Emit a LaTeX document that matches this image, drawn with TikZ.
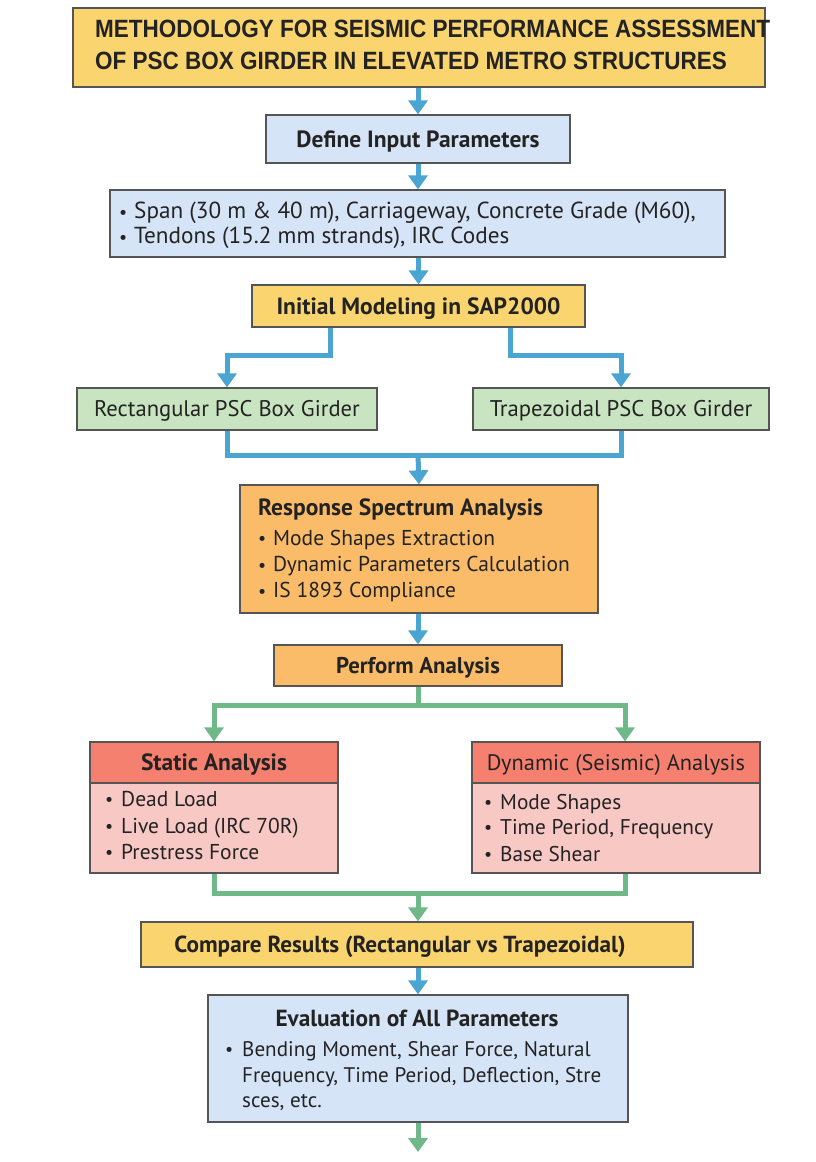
\documentclass[tikz,border=0pt]{standalone}
\usepackage{fontspec}
\setmainfont{PT Sans}
\newfontfamily\titlefont[FakeStretch=0.9]{Liberation Sans}
\usetikzlibrary{arrows.meta}
\definecolor{bordergray}{RGB}{85,85,85}
\definecolor{txt}{RGB}{35,35,35}
\definecolor{ablue}{RGB}{75,165,210}
\definecolor{agreen}{RGB}{110,185,135}
\definecolor{fyellow}{RGB}{250,212,110}
\definecolor{fblue}{RGB}{214,228,247}
\definecolor{fgreen}{RGB}{200,228,192}
\definecolor{forange}{RGB}{250,188,105}
\definecolor{fsalmon}{RGB}{246,128,112}
\definecolor{fpink}{RGB}{248,200,196}
\newcommand{\fsz}[1]{\fontsize{#1}{#1}\selectfont}
\newcommand{\bul}[1]{\makebox[#1][l]{\raisebox{0.5pt}{\fsz{18}•}}}
\begin{document}
\begin{tikzpicture}[x=1pt,y=-1pt,
  box/.style={draw=bordergray, line width=1.3pt, inner sep=0pt, text=txt},
  ctr/.style={text height=#1, text depth=0pt},
  lbl/.style={inner sep=0pt, text=txt, anchor=base west},
  hd/.style={inner sep=0pt, text=txt},
  bline/.style={draw=ablue, line width=5pt},
  barrow/.style={draw=ablue, line width=5pt, -{Triangle[width=19pt,length=14pt]}},
  gline/.style={draw=agreen, line width=5pt},
  garrow/.style={draw=agreen, line width=5pt, -{Triangle[width=19pt,length=14pt]}}]
\path[use as bounding box, fill=white] (0,0) rectangle (816,1162);

% title
\node[box, fill=fyellow, minimum width=692pt, minimum height=79pt] (title) at (419,47.5) {};
\node[inner sep=0pt, text=txt, anchor=west, font=\titlefont\fsz{25}\bfseries] (t1) at (95,29) {METHODOLOGY FOR SEISMIC PERFORMANCE ASSESSMENT};
\node[inner sep=0pt, text=txt, anchor=west, font=\titlefont\fsz{25}\bfseries] (t2) at (95,61) {OF PSC BOX GIRDER IN ELEVATED METRO STRUCTURES};

% define
\node[box, ctr=16.4pt, fill=fblue, minimum width=304pt, minimum height=48pt, font=\fsz{23.5}\bfseries] (define) at (418,139) {Define Input Parameters};

% span
\node[box, fill=fblue, minimum width=615pt, minimum height=67pt] (span) at (417.5,223.5) {};
\node[lbl, font=\fsz{23.2}] (sp1) at (119,218.5) {\bul{15pt}Span (30 m \& 40 m), Carriageway, Concrete Grade (M60),};
\node[lbl, font=\fsz{23.2}] (sp2) at (119,243.5) {\bul{15pt}Tendons (15.2 mm strands), IRC Codes};

% initial
\node[box, ctr=16.4pt, fill=fyellow, minimum width=333pt, minimum height=42pt, font=\fsz{23.5}\bfseries] (init) at (418.5,306) {Initial Modeling in SAP2000};

% girders
\node[box, ctr=15.8pt, fill=fgreen, minimum width=300pt, minimum height=42pt, font=\fsz{22.6}] (rect) at (227,409) {Rectangular PSC Box Girder};
\node[box, ctr=15.8pt, fill=fgreen, minimum width=296pt, minimum height=42pt, font=\fsz{22.7}] (trap) at (621,409) {Trapezoidal PSC Box Girder};

% response
\node[box, fill=forange, minimum width=358pt, minimum height=128pt] (resp) at (419,549) {};
\node[hd, anchor=base west, font=\fsz{23.5}\bfseries] (r0) at (258,515) {Response Spectrum Analysis};
\node[lbl, font=\fsz{21.5}] (r1) at (258,545) {\bul{15pt}Mode Shapes Extraction};
\node[lbl, font=\fsz{21.5}] (r2) at (258,571.5) {\bul{15pt}Dynamic Parameters Calculation};
\node[lbl, font=\fsz{21.5}] (r3) at (258,597.5) {\bul{15pt}IS 1893 Compliance};

% perform
\node[box, ctr=16pt, fill=forange, minimum width=288pt, minimum height=41pt, font=\fsz{22.8}\bfseries] (perf) at (418,665.5) {Perform Analysis};

% static
\node[box, fill=fpink, minimum width=248pt, minimum height=131pt] (static) at (214,807.5) {};
\node[box, ctr=16.4pt, fill=fsalmon, minimum width=248pt, minimum height=41pt, anchor=north, font=\fsz{23.5}\bfseries] (sthead) at (static.north) {Static Analysis};
\node[lbl, font=\fsz{21.5}] (s1) at (105,806) {\bul{16pt}Dead Load};
\node[lbl, font=\fsz{21.5}] (s2) at (105,833) {\bul{16pt}Live Load (IRC 70R)};
\node[lbl, font=\fsz{21.5}] (s3) at (105,859) {\bul{16pt}Prestress Force};

% dynamic
\node[box, fill=fpink, minimum width=288pt, minimum height=131pt] (dyn) at (616,807.5) {};
\node[box, ctr=15.7pt, fill=fsalmon, minimum width=288pt, minimum height=41pt, anchor=north, font=\fsz{22.4}] (dynhead) at (dyn.north) {Dynamic (Seismic) Analysis};
\node[lbl, font=\fsz{21.3}] (d1) at (484,809) {\bul{16pt}Mode Shapes};
\node[lbl, font=\fsz{21.3}] (d2) at (484,834) {\bul{16pt}Time Period, Frequency};
\node[lbl, font=\fsz{21.3}] (d3) at (484,861) {\bul{16pt}Base Shear};

% compare
\node[box, fill=fyellow, minimum width=552pt, minimum height=45pt] (comp) at (417,944.5) {};
\node[hd, anchor=base, font=\fsz{23.2}\bfseries] (comptext) at (400,952.5) {Compare Results (Rectangular vs Trapezoidal)};

% evaluation
\node[box, fill=fblue, minimum width=420pt, minimum height=127pt] (eval) at (418,1058.5) {};
\node[hd, anchor=base, font=\fsz{23.3}\bfseries] (e0) at (417,1026) {Evaluation of All Parameters};
\node[lbl, font=\fsz{21.1}] (e1) at (225,1056) {\bul{17pt}Bending Moment, Shear Force, Natural};
\node[lbl, font=\fsz{21.1}] (e2) at (242,1082) {Frequency, Time Period, Deflection, Stre};
\node[lbl, font=\fsz{21.1}] (e3) at (242,1107) {sces, etc.};

% connectors
\draw[barrow] (define.north |- title.south) -- (define.north);
\draw[barrow] (define.south) -- (define.south |- span.north);
\draw[barrow] (init.north |- span.south) -- (init.north);
\draw[barrow] ([xshift=-88pt]init.south) -- ++(0,28) -| (rect.north);
\draw[barrow] ([xshift=92pt]init.south) -- ++(0,28) -| (trap.north);
\coordinate (m1) at (418,455);
\draw[bline] (rect.south) |- (m1) -| (trap.south);
\draw[barrow] (m1) -- (resp.north);
\draw[barrow] (resp.south -| perf.north) -- (perf.north);
\coordinate (g1) at (418,705);
\draw[gline] (perf.south) -- (g1);
\draw[garrow] (g1) -| (sthead.north);
\draw[garrow] (g1) -| ([xshift=9pt]dynhead.north);
\coordinate (g2) at (418,893);
\draw[gline] (static.south) |- (g2) -| ([xshift=9pt]dyn.south);
\draw[garrow] (g2) -- (g2 |- comp.north);
\draw[barrow] (comp.south -| eval.north) -- (eval.north);
\coordinate (endpt) at (418,1152);
\draw[garrow] (eval.south) -- (endpt);
\end{tikzpicture}
\end{document}
